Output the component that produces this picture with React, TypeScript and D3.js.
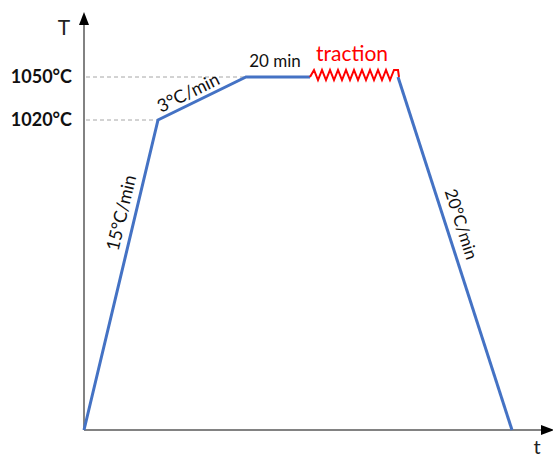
import React from "react";
import * as d3 from "d3";

// Schematic thermal cycle (time in min, temperature in °C)
const times = [0, 66.7, 76.7, 96.7, 126.7, 178];
const temps = [20, 1020, 1050, 1050, 1050, 20];
const phases = ["heat1", "heat2", "hold", "traction", "cool"];
const tickTemps = [1050, 1020];
const tickLabels = ["1050°C", "1020°C"];
const rateLabels = ["15°C/min", "3°C/min", "20 min", "traction", "20°C/min"];
const tractionCycles = 11;

const W = 553;
const H = 457;
const FONT = "Lato, 'Open Sans', sans-serif";

export default function App() {
  // schematic (piecewise) scales
  const x = d3.scaleLinear().domain(times).range([84, 158, 246, 310, 398, 512]);
  const y = d3.scaleLinear().domain([20, 1020, 1050]).range([430, 120, 77]);

  const line = d3.line<[number, number]>().x((d) => x(d[0])).y((d) => y(d[1]));

  const blueA = times.slice(0, 4).map((t, i) => [t, temps[i]] as [number, number]);
  const blueB = times.slice(4).map((t, i) => [t, temps[i + 4]] as [number, number]);

  // traction zigzag in pixel space derived from scales
  const x0 = x(times[3]);
  const x1 = x(times[4]);
  const yc = y(1050) - 2;
  const amp = 5;
  const zig: [number, number][] = [[x0, y(1050)]];
  const n = tractionCycles * 2;
  for (let i = 1; i <= n; i++) {
    const xx = x0 + ((x1 - x0) * i) / n;
    zig.push([xx, i % 2 === 1 ? yc - amp : yc + amp]);
  }
  zig[zig.length - 1] = [x1, yc - amp];
  zig.push([x1 + 1, y(1050)]);
  const zigLine = d3.line<[number, number]>();

  const segAngle = (i: number) => {
    const dx = x(times[i + 1]) - x(times[i]);
    const dy = y(temps[i + 1]) - y(temps[i]);
    return (Math.atan2(dy, dx) * 180) / Math.PI;
  };
  const along = (i: number, f: number) => [
    x(times[i]) + (x(times[i + 1]) - x(times[i])) * f,
    y(temps[i]) + (y(temps[i + 1]) - y(temps[i])) * f,
  ];

  const a0 = segAngle(0);
  const a1 = segAngle(1);
  const a4 = segAngle(4);
  const p0 = along(0, 0.69);
  const p1 = along(1, 0.4);
  const p4 = along(4, 0.43);

  const axisColor = "#595959";

  return (
    <svg width={W} height={H} style={{ position: "absolute", left: 0, top: 0 }}>
      <rect width={W} height={H} fill="white" />
      {/* dashed guides */}
      {tickTemps.map((t, i) => (
        <line
          key={"g" + i}
          x1={86}
          x2={x(times[i === 0 ? 2 : 1])}
          y1={y(t)}
          y2={y(t)}
          stroke="#a6a6a6"
          strokeWidth={1}
          strokeDasharray="4,3"
        />
      ))}
      {/* axes */}
      <line x1={84} x2={84} y1={430} y2={22} stroke={axisColor} strokeWidth={1.5} />
      <path d="M84,12 L79,25 L89,25 Z" fill="black" />
      <line x1={84} x2={543} y1={430} y2={430} stroke={axisColor} strokeWidth={1.5} />
      <path d="M554,430 L541,425 L541,435 Z" fill="black" />
      <text x={64} y={35} fontFamily={FONT} fontSize={21} textAnchor="middle" fill="#222">T</text>
      <text x={537} y={454} fontFamily={FONT} fontSize={20} textAnchor="middle" fill="#222">t</text>
      {/* tick labels */}
      {tickTemps.map((t, i) => (
        <text
          key={"t" + i}
          x={72}
          y={y(t) + 6}
          textAnchor="end"
          fontFamily={FONT}
          fontWeight="bold"
          fontSize={18}
          fill="#111"
        >
          {tickLabels[i]}
        </text>
      ))}
      {/* profile */}
      <path d={line(blueA) || ""} fill="none" stroke="#4472C4" strokeWidth={3} strokeLinejoin="miter" />
      <path d={line(blueB) || ""} fill="none" stroke="#4472C4" strokeWidth={3} />
      <path d={zigLine(zig) || ""} fill="none" stroke="#FF0000" strokeWidth={2} strokeLinejoin="miter" />
      {/* labels */}
      <text
        transform={`translate(${p0[0]},${p0[1]}) rotate(${a0})`}
        y={-8}
        textAnchor="middle"
        fontFamily={FONT}
        fontSize={18}
        fill="#111"
      >
        {rateLabels[0]}
      </text>
      <text
        transform={`translate(${p1[0]},${p1[1]}) rotate(${a1})`}
        y={-5}
        textAnchor="middle"
        fontFamily={FONT}
        fontSize={18}
        fill="#111"
      >
        {rateLabels[1]}
      </text>
      <text x={(x(times[2]) + x(times[3])) / 2 - 3} y={67} textAnchor="middle" fontFamily={FONT} fontSize={17} fill="#111">
        {rateLabels[2]}
      </text>
      <text x={(x(times[3]) + x(times[4])) / 2 - 2} y={61} textAnchor="middle" fontFamily={FONT} fontSize={21} fill="#FF0000">
        {rateLabels[3]}
      </text>
      <text
        transform={`translate(${p4[0]},${p4[1]}) rotate(${a4})`}
        y={-9}
        textAnchor="middle"
        fontFamily={FONT}
        fontSize={17}
        fill="#111"
      >
        {rateLabels[4]}
      </text>
      <g data-phases={phases.join(",")} />
    </svg>
  );
}
